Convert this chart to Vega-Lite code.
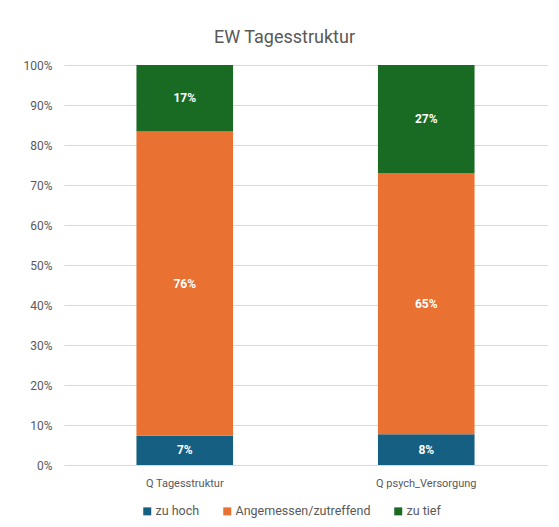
{
  "$schema": "https://vega.github.io/schema/vega-lite/v6.json",
  "width": 483,
  "height": 400,
  "autosize": {"type": "none"},
  "padding": {"left": 64, "top": 65, "right": 12, "bottom": 62},
  "background": "white",
  "title": {
    "text": "EW Tagesstruktur",
    "fontSize": 18,
    "fontWeight": "normal",
    "color": "#595959",
    "font": "Roboto",
    "anchor": "middle",
    "frame": "group",
    "dx": -21,
    "baseline": "alphabetic",
    "offset": -2
  },
  "data": {
    "values": [
      {"Frage": "Q Tagesstruktur", "Kategorie": "zu hoch", "Ordnung": 1, "Wert": 0.073},
      {"Frage": "Q Tagesstruktur", "Kategorie": "Angemessen/zutreffend", "Ordnung": 2, "Wert": 0.761},
      {"Frage": "Q Tagesstruktur", "Kategorie": "zu tief", "Ordnung": 3, "Wert": 0.166},
      {"Frage": "Q psych_Versorgung", "Kategorie": "zu hoch", "Ordnung": 1, "Wert": 0.077},
      {"Frage": "Q psych_Versorgung", "Kategorie": "Angemessen/zutreffend", "Ordnung": 2, "Wert": 0.653},
      {"Frage": "Q psych_Versorgung", "Kategorie": "zu tief", "Ordnung": 3, "Wert": 0.270}
    ]
  },
  "transform": [
    {"stack": "Wert", "groupby": ["Frage"], "sort": [{"field": "Ordnung", "order": "ascending"}], "as": ["y0", "y1"]},
    {"calculate": "(datum.y0 + datum.y1) / 2", "as": "mid"}
  ],
  "encoding": {
    "x": {
      "field": "Frage",
      "type": "nominal",
      "sort": ["Q Tagesstruktur", "Q psych_Versorgung"],
      "title": null,
      "scale": {"paddingInner": 0.6, "paddingOuter": 0.3},
      "axis": {
        "labelAngle": 0,
        "domain": false,
        "ticks": false,
        "labelPadding": 12,
        "labelFontSize": 11,
        "labelColor": "#595959",
        "labelFont": "Roboto"
      }
    }
  },
  "layer": [
    {
      "mark": {"type": "bar"},
      "encoding": {
        "y": {
          "field": "y0",
          "type": "quantitative",
          "scale": {"domain": [0, 1]},
          "title": null,
          "axis": {
            "format": ".0%",
            "values": [0, 0.1, 0.2, 0.3, 0.4, 0.5, 0.6, 0.7, 0.8, 0.9, 1],
            "labelOverlap": false,
            "domain": false,
            "ticks": false,
            "gridColor": "#d9d9d9",
            "labelColor": "#595959",
            "labelFontSize": 12,
            "labelFont": "Roboto",
            "labelPadding": 12
          }
        },
        "y2": {"field": "y1"},
        "color": {
          "field": "Kategorie",
          "type": "nominal",
          "scale": {
            "domain": ["zu hoch", "Angemessen/zutreffend", "zu tief"],
            "range": ["#156082", "#E97132", "#196B24"]
          },
          "legend": {
            "title": null,
            "orient": "none",
            "direction": "horizontal",
            "legendX": 77,
            "legendY": 440,
            "symbolType": "square",
            "symbolSize": 64,
            "symbolStrokeWidth": 0,
            "labelFontSize": 12.5,
            "labelFont": "Roboto",
            "labelColor": "#595959",
            "labelOffset": 2,
            "columnPadding": 21
          }
        }
      }
    },
    {
      "mark": {"type": "text", "color": "white", "fontWeight": "bold", "fontSize": 12, "font": "Roboto"},
      "encoding": {
        "y": {
          "field": "mid",
          "type": "quantitative",
          "title": null,
          "axis": {
            "format": ".0%",
            "values": [0, 0.1, 0.2, 0.3, 0.4, 0.5, 0.6, 0.7, 0.8, 0.9, 1],
            "labelOverlap": false,
            "domain": false,
            "ticks": false,
            "gridColor": "#d9d9d9",
            "labelColor": "#595959",
            "labelFontSize": 12,
            "labelFont": "Roboto",
            "labelPadding": 12
          }
        },
        "text": {"field": "Wert", "type": "quantitative", "format": ".0%"}
      }
    }
  ],
  "config": {
    "view": {"stroke": null}
  }
}
